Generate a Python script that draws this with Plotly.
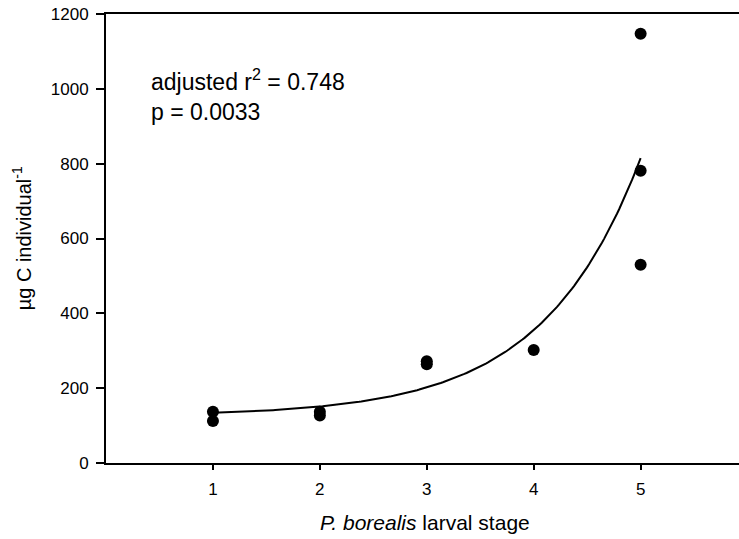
import numpy as np
import plotly.graph_objects as go

# Data
stage = [1, 1, 2, 2, 3, 3, 4, 5, 5, 5]
carbon = [137, 112, 137, 127, 272, 264, 302, 1147, 781, 530]

# Exponential fit parameters (y = y0 + a*exp(b*x))
fit_y0 = 125.5
fit_a = 2.818
fit_b = 1.1
fit_x_start = 1
fit_x_end = 5

x_ticks = [1, 2, 3, 4, 5]
y_ticks = [0, 200, 400, 600, 800, 1000, 1200]

stat_lines = ["adjusted r<sup>2</sup> = 0.748", "p = 0.0033"]

fx = np.linspace(fit_x_start, fit_x_end, 200)
fy = fit_y0 + fit_a * np.exp(fit_b * fx)

FONT = "Liberation Sans, Arial, sans-serif"

fig = go.Figure()
fig.add_trace(go.Scatter(x=fx, y=fy, mode="lines",
                         line=dict(color="black", width=2), showlegend=False,
                         hoverinfo="skip"))
fig.add_trace(go.Scatter(x=stage, y=carbon, mode="markers",
                         marker=dict(color="black", size=12), showlegend=False))

fig.add_annotation(x=0.40, y=983, xref="x", yref="y",
                   text="<br>".join(stat_lines), align="left",
                   showarrow=False, xanchor="left", yanchor="middle",
                   font=dict(family=FONT, size=23, color="black"))

fig.add_annotation(x=2.98, y=-0.133, xref="x", yref="paper",
                   text="<i>P. borealis</i> larval stage",
                   showarrow=False, xanchor="center", yanchor="middle",
                   font=dict(family=FONT, size=21, color="black"))
fig.add_annotation(x=-0.133, y=0.5, xref="paper", yref="paper",
                   text="µg C individual<sup>-1</sup>", textangle=-90,
                   showarrow=False, xanchor="center", yanchor="middle",
                   font=dict(family=FONT, size=20, color="black"))

fig.update_layout(
    width=739, height=539,
    margin=dict(l=106, r=0, t=14, b=76),
    paper_bgcolor="white", plot_bgcolor="white",
    font=dict(family=FONT, size=17, color="black"),
    xaxis=dict(range=[0, 5.92], tickvals=x_ticks, ticks="outside", ticklen=5,
               tickwidth=1.5, tickcolor="black",
               showline=True, linecolor="black", linewidth=2, mirror=True,
               showgrid=False, zeroline=False, automargin=False,
               tickfont=dict(family=FONT, size=17, color="black"),
               ticklabelstandoff=5),
    yaxis=dict(range=[0, 1200], tickvals=y_ticks, ticks="outside", ticklen=8,
               tickwidth=1.5, tickcolor="black",
               showline=True, linecolor="black", linewidth=2, mirror=False,
               showgrid=False, zeroline=False, automargin=False,
               tickfont=dict(family=FONT, size=17, color="black"),
               ticklabelstandoff=4),
)

fig.write_html("out.html", config={"displayModeBar": False},
               post_script="document.body.style.margin='0px';document.body.style.overflow='hidden';")
